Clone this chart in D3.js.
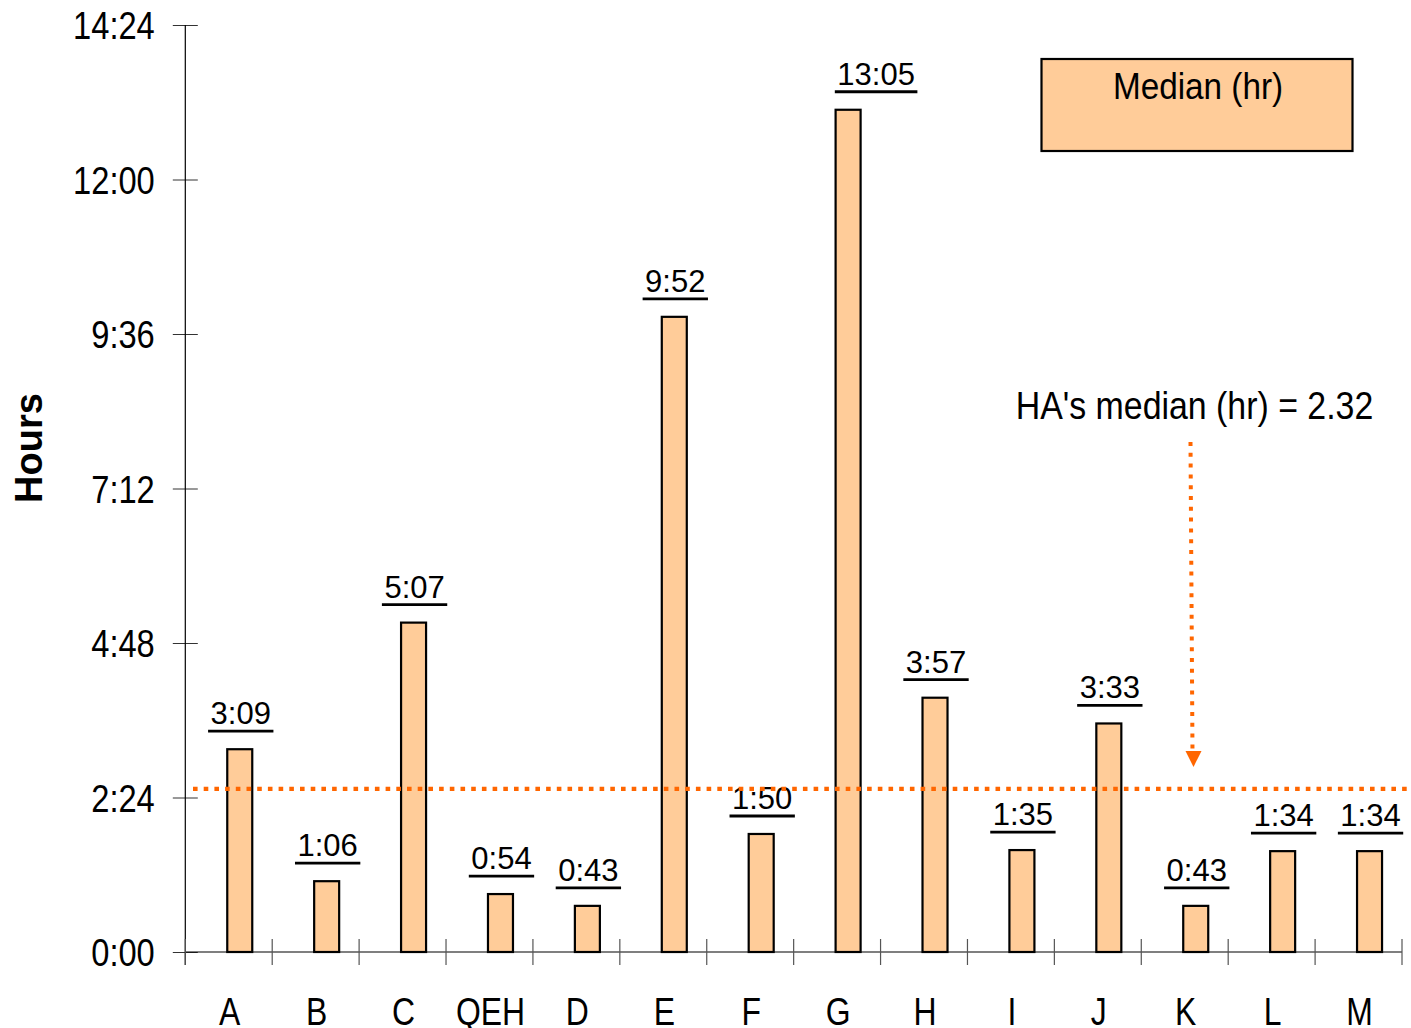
<!DOCTYPE html>
<html>
<head>
<meta charset="utf-8">
<script src="https://cdn.jsdelivr.net/npm/d3@7"></script>
<style>
  html, body { margin: 0; padding: 0; background: #fff; }
  svg { display: block; }
</style>
</head>
<body>
<svg id="chart" width="1411" height="1028"></svg>
<script>
// Hospitals / clusters along the x axis
const categories = ["A", "B", "C", "QEH", "D", "E", "F", "G", "H", "I", "J", "K", "L", "M"];
// Median waiting time per category, in minutes
const medianMinutes = [189, 66, 307, 54, 43, 592, 110, 785, 237, 95, 213, 43, 94, 94];
// Y axis ticks, in minutes (every 2:24)
const yTicks = [0, 144, 288, 432, 576, 720, 864];
// Overall median: 2 h 32 min
const overallMedianMinutes = 2 * 60 + 32;
const overallMedianText = "HA's median (hr) = 2.32";
const legendLabel = "Median (hr)";
const yTitle = "Hours";

const SANS = "'Liberation Sans', Arial, sans-serif";
const BAR_FILL = "#FFCC99";
const ORANGE = "#FF6600";

const fmt = m => `${Math.floor(m / 60)}:${String(m % 60).padStart(2, "0")}`;

// Narrow-looking text: a regular sans squeezed horizontally around its anchor
function narrow(sel, x, y, size, sx) {
  return sel.attr("x", 0).attr("y", 0)
    .attr("transform", `translate(${x},${y}) scale(${sx},1)`)
    .attr("font-family", SANS).attr("font-size", size).attr("fill", "#000");
}

const svg = d3.select("#chart");

const plot = { left: 185.3, right: 1402, top: 25, bottom: 952 };

const y = d3.scaleLinear().domain([0, 864]).range([plot.bottom, plot.top]);
const x = d3.scaleBand().domain(categories).range([plot.left, plot.right]).padding(0);

const barWidth = 25;
const barOffset = 11; // bars sit slightly right of the category centre
const barCenter = c => x(c) + x.bandwidth() / 2 + barOffset;
// the tallest bar's label is pushed right, clear of the bar's top edge
const labelShift = c => (c === "G" ? 28 : 1);

// Y axis
const yAxis = svg.append("g")
  .attr("transform", `translate(${plot.left},0)`)
  .call(d3.axisLeft(y).tickValues(yTicks).tickFormat(fmt).tickSize(12.5).tickPadding(18));
yAxis.select(".domain").remove();
yAxis.selectAll(".tick line").attr("x1", 12.5).attr("x2", -12.5).attr("stroke", "#333").attr("stroke-width", 1);
yAxis.selectAll(".tick text").each(function () {
  narrow(d3.select(this), -30.5, 13.5, 38, 0.86).attr("dy", null);
});
svg.append("line")
  .attr("x1", plot.left).attr("x2", plot.left)
  .attr("y1", plot.top).attr("y2", plot.bottom + 13)
  .attr("stroke", "#000").attr("stroke-width", 1.2);

// Y axis title
svg.append("text")
  .attr("transform", `translate(42,448) rotate(-90)`)
  .attr("text-anchor", "middle")
  .attr("font-family", SANS).attr("font-weight", "bold").attr("font-size", 38)
  .text(yTitle);

// X axis line and category boundary ticks
svg.append("line")
  .attr("x1", plot.left).attr("x2", plot.right)
  .attr("y1", plot.bottom).attr("y2", plot.bottom)
  .attr("stroke", "#000").attr("stroke-width", 1.2);
const bounds = categories.map(c => x(c)).concat([x.range()[1]]);
svg.append("g").selectAll("line").data(bounds).join("line")
  .attr("x1", d => d).attr("x2", d => d)
  .attr("y1", plot.bottom - 13).attr("y2", plot.bottom + 13)
  .attr("stroke", "#555").attr("stroke-width", 1.2);

const xAxis = svg.append("g")
  .attr("transform", `translate(0,${plot.bottom})`)
  .call(d3.axisBottom(x).tickSize(0).tickPadding(0));
xAxis.select(".domain").remove();
xAxis.selectAll(".tick text").each(function () {
  narrow(d3.select(this), 1, 73, 38, 0.84).attr("dy", null);
});

// Bars
svg.append("g").selectAll("rect")
  .data(categories.map((c, i) => ({ c, v: medianMinutes[i] })))
  .join("rect")
  .attr("x", d => barCenter(d.c) - barWidth / 2)
  .attr("width", barWidth)
  .attr("y", d => y(d.v))
  .attr("height", d => y(0) - y(d.v))
  .attr("fill", BAR_FILL)
  .attr("stroke", "#000").attr("stroke-width", 2.2);

// Value labels, underlined
const labels = svg.append("g").selectAll("g")
  .data(categories.map((c, i) => ({ c, v: medianMinutes[i] })))
  .join("g");
labels.append("text")
  .attr("x", d => barCenter(d.c) + labelShift(d.c))
  .attr("y", d => y(d.v) - 25)
  .attr("text-anchor", "middle")
  .attr("font-family", SANS).attr("font-size", 31).attr("fill", "#000")
  .text(d => fmt(d.v));
labels.each(function (d) {
  const t = d3.select(this).select("text");
  const w = t.node().getComputedTextLength();
  const cx = barCenter(d.c) + labelShift(d.c);
  d3.select(this).append("line")
    .attr("x1", cx - w / 2 - 2.5).attr("x2", cx + w / 2 + 2.5)
    .attr("y1", y(d.v) - 18).attr("y2", y(d.v) - 18)
    .attr("stroke", "#000").attr("stroke-width", 2.8);
});

// Overall median line
const yMed = y(overallMedianMinutes);
svg.append("line")
  .attr("x1", 193).attr("x2", 1411)
  .attr("y1", yMed).attr("y2", yMed)
  .attr("stroke", ORANGE).attr("stroke-width", 4.2)
  .attr("stroke-dasharray", "4.6 6.1");

// Annotation with arrow pointing at the median line
narrow(svg.append("text"), 1194.5, 419, 38.5, 0.88)
  .attr("text-anchor", "middle")
  .text(overallMedianText);
const tipY = yMed - 22;
svg.append("line")
  .attr("x1", 1190.5).attr("x2", 1192.5)
  .attr("y1", 442).attr("y2", tipY - 14)
  .attr("stroke", ORANGE).attr("stroke-width", 4)
  .attr("stroke-dasharray", "4 6.8");
svg.append("path")
  .attr("d", `M${1185.5},${tipY - 16} L${1201.5},${tipY - 16} L${1193.5},${tipY} Z`)
  .attr("fill", ORANGE);

// Legend
svg.append("rect")
  .attr("x", 1041.5).attr("y", 59).attr("width", 311).attr("height", 92)
  .attr("fill", BAR_FILL).attr("stroke", "#000").attr("stroke-width", 2.2);
narrow(svg.append("text"), 1198, 98.5, 37, 0.9)
  .attr("text-anchor", "middle")
  .text(legendLabel);
</script>
</body>
</html>
